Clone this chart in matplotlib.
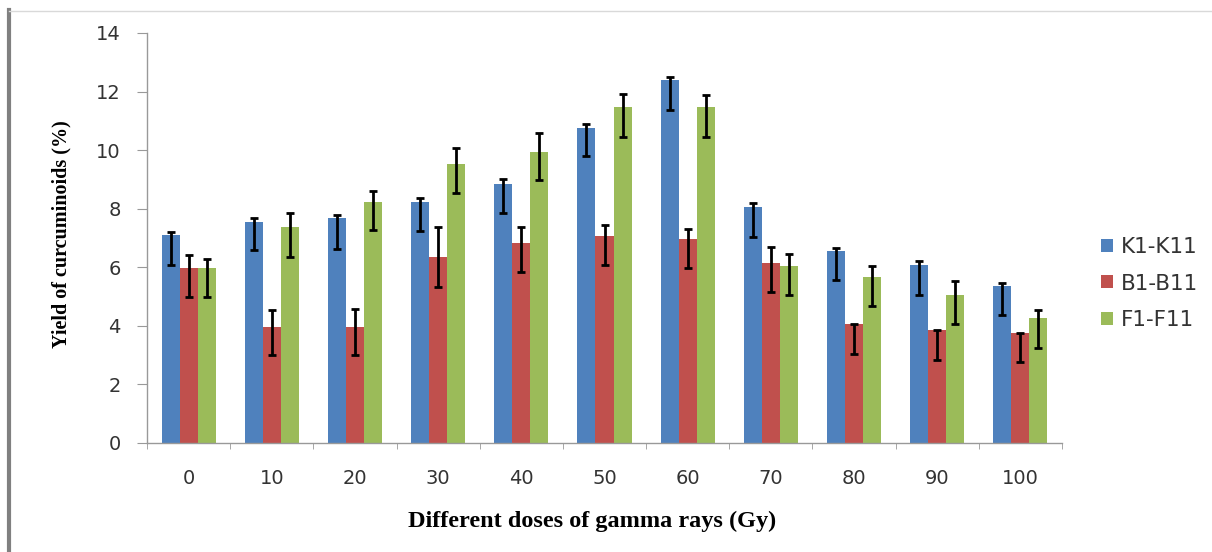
import matplotlib
matplotlib.use("Agg")
import matplotlib.pyplot as plt
import numpy as np
from matplotlib.lines import Line2D

doses = ["0", "10", "20", "30", "40", "50", "60", "70", "80", "90", "100"]
series_names = ["K1-K11", "B1-B11", "F1-F11"]

K = [7.1, 7.55, 7.67, 8.23, 8.86, 10.77, 12.39, 8.06, 6.55, 6.07, 5.35]
K_up = [0.10, 0.12, 0.11, 0.14, 0.14, 0.11, 0.11, 0.14, 0.11, 0.14, 0.12]
K_lo = [1.03, 0.97, 1.03, 0.99, 1.00, 0.98, 1.02, 1.02, 0.99, 1.02, 0.99]

B = [5.96, 3.96, 3.96, 6.36, 6.83, 7.06, 6.95, 6.15, 4.05, 3.85, 3.76]
B_up = [0.45, 0.57, 0.60, 1.02, 0.55, 0.38, 0.35, 0.55, 0.0, 0.0, 0.0]
B_lo = [0.97, 0.96, 0.96, 1.03, 0.99, 0.99, 0.99, 0.99, 1.00, 1.00, 0.99]

F = [5.96, 7.38, 8.23, 9.54, 9.94, 11.46, 11.46, 6.04, 5.67, 5.07, 4.27]
F_up = [0.32, 0.46, 0.37, 0.52, 0.66, 0.45, 0.42, 0.40, 0.38, 0.45, 0.26]
F_lo = [0.97, 1.02, 0.96, 0.99, 0.97, 1.00, 1.00, 0.99, 1.00, 1.02, 1.01]

colors = ["#4F81BD", "#C0504D", "#9BBB59"]

fig = plt.figure(figsize=(12.12, 5.52), dpi=100)
ax = fig.add_axes([147/1212, (552-443)/552, (1062-147)/1212, (443-33)/552])

x = np.arange(len(doses))
w = 0.217
data = [(K, K_lo, K_up), (B, B_lo, B_up), (F, F_lo, F_up)]
for i, (vals, lo, up) in enumerate(data):
    pos = x + (i - 1) * w
    ax.bar(pos, vals, width=w, color=colors[i], label=series_names[i], zorder=2)
    ax.errorbar(pos, vals, yerr=[lo, up], fmt="none", ecolor="black",
                elinewidth=2, capsize=3, capthick=2, zorder=3)

ax.set_xlim(-0.5, len(doses) - 0.5)
ax.set_ylim(0, 14)
ax.set_yticks(np.arange(0, 15, 2))
ax.set_xticks(x)
ax.set_xticklabels(doses)
ax.set_xticks(np.arange(-0.5, len(doses) + 0.5, 1), minor=True)
ax.tick_params(axis="x", which="major", length=0, pad=19, labelsize=14, labelcolor="#333333")
ax.tick_params(axis="x", which="minor", length=4, color="#999999", direction="out")
ax.tick_params(axis="y", length=7, color="#999999", direction="out", pad=12,
               labelsize=14, labelcolor="#333333")
for s in ["top", "right"]:
    ax.spines[s].set_visible(False)
for s in ["left", "bottom"]:
    ax.spines[s].set_color("#999999")
    ax.spines[s].set_linewidth(1)

ax.set_ylabel("Yield of curcuminoids (%)", fontfamily="Liberation Serif",
              fontweight="bold", fontsize=14.5)
ax.yaxis.set_label_coords(-0.082, 0.51)
ax.set_xlabel("Different doses of gamma rays (Gy)", fontfamily="Liberation Serif",
              fontweight="bold", fontsize=17.5)
ax.xaxis.set_label_coords((592-147)/(1062-147), -(521-443)/(443-33))
ax.xaxis.label.set_va("center")

leg = fig.legend(loc="upper left", bbox_to_anchor=(1082/1212, 1 - 218/552),
                 frameon=False, fontsize=15.5, handlelength=0.55, handleheight=0.55,
                 labelspacing=0.75, handletextpad=0.35)
for t in leg.get_texts():
    t.set_color("#333333")

# outer chart frame
fig.add_artist(Line2D([9/1212, 9/1212], [0, 1 - 10/552], transform=fig.transFigure,
                      color="#808080", linewidth=3))
fig.add_artist(Line2D([9/1212, 1], [1 - 11/552, 1 - 11/552], transform=fig.transFigure,
                      color="#d9d9d9", linewidth=1))

fig.savefig("out.png", dpi=100)
